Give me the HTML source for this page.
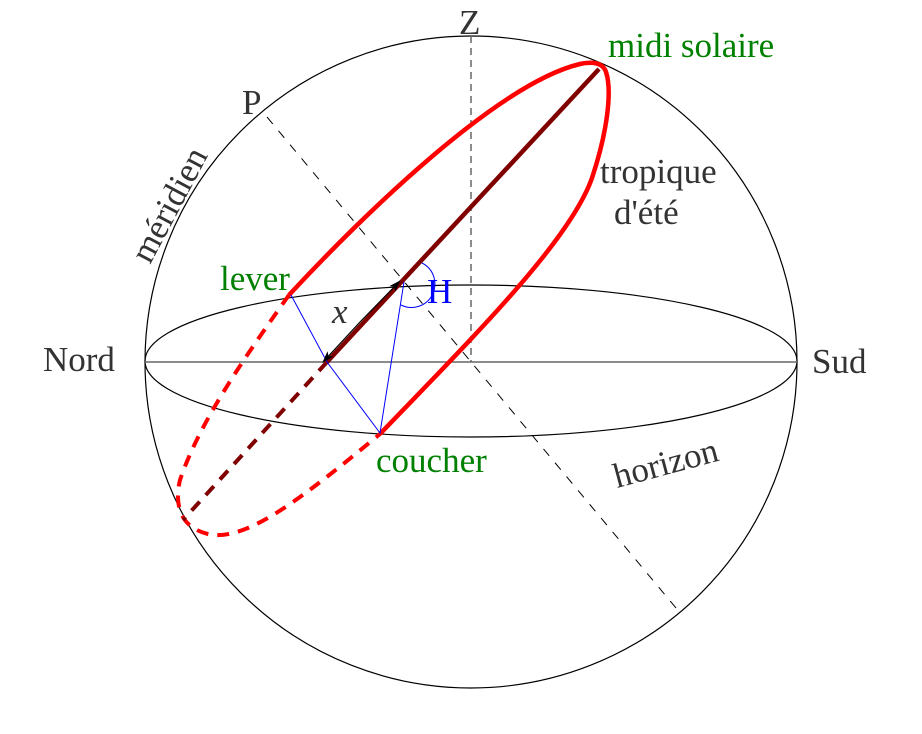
<!DOCTYPE html>
<html><head><meta charset="utf-8"><style>
body{margin:0;background:#fff}
svg{display:block}
text{font-family:"Liberation Serif",serif;font-size:35px;fill:#333}
.g{fill:#008000}
</style></head><body>
<svg width="922" height="734" viewBox="0 0 922 734" xmlns="http://www.w3.org/2000/svg">
<defs>
<marker id="ah" markerWidth="12" markerHeight="8" refX="11" refY="4" orient="auto" markerUnits="userSpaceOnUse"><path d="M0,0 L12,4 L0,8 L3,4 Z" fill="#000"/></marker>
</defs>
<circle cx="471" cy="362" r="326" fill="none" stroke="#000" stroke-width="1.2"/>
<ellipse cx="471" cy="361" rx="326" ry="76" fill="none" stroke="#000" stroke-width="1.2"/>
<line x1="145" y1="362" x2="797" y2="362" stroke="#666" stroke-width="1.5"/>
<line x1="471" y1="36" x2="471" y2="362" stroke="#666" stroke-width="1.5" stroke-dasharray="7,5"/>
<line x1="267" y1="117" x2="681" y2="614" stroke="#000" stroke-width="1" stroke-dasharray="9,9"/>
<path d="M289,295 C369,209 500,83 580,64 C594,61 603,63 606,72 C612,90 608,130 592,178 C570,240 480,330 380,434" fill="none" stroke="#f00" stroke-width="4.5"/>
<path d="M289,295 C250,350 200,420 180,480 C174,505 180,530 213,535 C250,538 300,500 380,434" fill="none" stroke="#f00" stroke-width="4" stroke-dasharray="12,9"/>
<line x1="599" y1="69" x2="327" y2="362" stroke="#800000" stroke-width="4.5"/>
<line x1="327" y1="362" x2="183" y2="520" stroke="#800000" stroke-width="4" stroke-dasharray="12,9"/>
<polyline points="291,295 327,362 380,433 404,282" fill="none" stroke="#00f" stroke-width="1"/>
<path d="M401,305 A22,22 0 0 0 422,263" fill="none" stroke="#00f" stroke-width="1"/>
<line x1="360" y1="322" x2="400" y2="281" stroke="#000" stroke-width="1.2" marker-end="url(#ah)"/>
<line x1="360" y1="322" x2="323" y2="362" stroke="#000" stroke-width="1.2" marker-end="url(#ah)"/>
<text x="459" y="34" font-size="38">Z</text>
<text x="242" y="114">P</text>
<text x="608" y="57" class="g">midi solaire</text>
<text x="600" y="183">tropique</text>
<text x="614" y="224">d'été</text>
<text x="0" y="0" transform="translate(150,265) rotate(-62)">méridien</text>
<text x="220" y="290" class="g">lever</text>
<text x="332" y="323" font-style="italic" font-size="36">x</text>
<text x="427" y="303" style="fill:#00f">H</text>
<text x="43" y="371">Nord</text>
<text x="812" y="373">Sud</text>
<text x="376" y="472" class="g">coucher</text>
<text x="0" y="0" transform="translate(617,488) rotate(-15)">horizon</text>
</svg>
</body></html>
